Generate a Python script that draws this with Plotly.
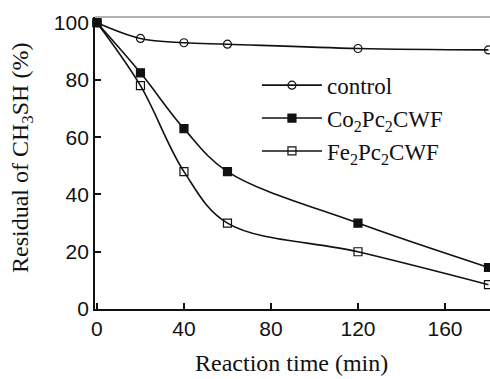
import plotly.graph_objects as go

time_min = [0, 20, 40, 60, 120, 180]
control = [100, 94.5, 93, 92.5, 91, 90.5]
co2pc2cwf = [100, 82.5, 63, 48, 30, 14.5]
fe2pc2cwf = [100, 78, 48, 30, 20, 8.5]

series = [
    ("control", control, "circle-open"),
    ("Co<sub>2</sub>Pc<sub>2</sub>CWF", co2pc2cwf, "square"),
    ("Fe<sub>2</sub>Pc<sub>2</sub>CWF", fe2pc2cwf, "square-open"),
]

fig = go.Figure()
for name, ys, sym in series:
    fig.add_trace(go.Scatter(
        x=time_min, y=ys, name=name, mode="lines+markers",
        line=dict(color="#111", width=1.6, shape="spline", smoothing=1.0),
        marker=dict(symbol=sym, size=8, color="#111", line=dict(color="#111", width=1.2)),
        cliponaxis=False,
    ))

title_font = dict(family="Liberation Serif", size=24, color="#111")

fig.update_layout(
    width=490, height=379,
    margin=dict(l=95, r=0, t=17, b=70),
    paper_bgcolor="white", plot_bgcolor="white",
    font=dict(family="Liberation Serif", color="#111"),
    legend=dict(
        x=0.41, y=0.84, xanchor="left", yanchor="top",
        font=dict(family="Liberation Serif", size=23, color="#111"),
        bgcolor="rgba(0,0,0,0)", tracegroupgap=0, itemwidth=60,
    ),
    xaxis=dict(
        range=[-0.9, 180.7], tickvals=[0, 40, 80, 120, 160], automargin=False,
        ticks="inside", ticklen=6, tickwidth=1.5, tickcolor="#111",
        showline=True, linecolor="#111", linewidth=1.8, showgrid=False, zeroline=False,
        tickfont=dict(family="Liberation Sans", size=21, color="#111"),
    ),
    yaxis=dict(
        range=[0, 102], tickvals=[0, 20, 40, 60, 80, 100], automargin=False,
        ticks="inside", ticklen=6, tickwidth=1.5, tickcolor="#111",
        showline=True, linecolor="#111", linewidth=1.8, showgrid=False, zeroline=False,
        tickfont=dict(family="Liberation Sans", size=21, color="#111"),
    ),
    annotations=[
        dict(text="Reaction time (min)", xref="paper", yref="paper", x=0.497, y=-0.186,
             xanchor="center", yanchor="middle", showarrow=False, font=title_font),
        dict(text="Residual of CH<sub>3</sub>SH (%)", xref="paper", yref="paper", x=-0.185, y=0.517,
             xanchor="center", yanchor="middle", textangle=-90, showarrow=False, font=title_font),
    ],
    shapes=[dict(type="line", xref="paper", yref="paper", x0=0, x1=1, y0=1, y1=1,
                 line=dict(color="#999", width=1.5))],
)

fig.write_html("out.html")
